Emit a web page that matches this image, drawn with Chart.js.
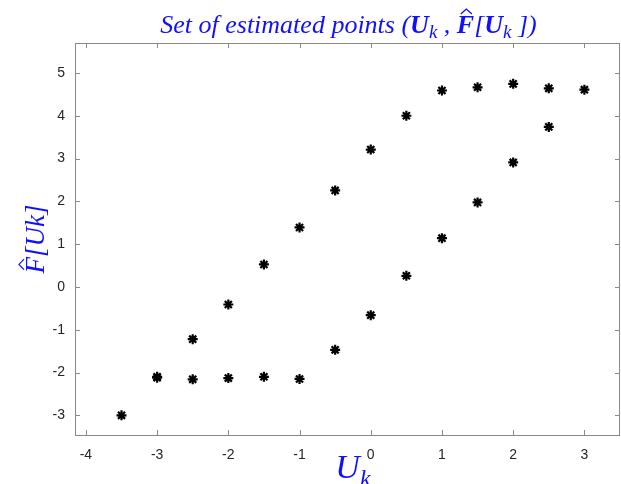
<!DOCTYPE html>
<html>
<head>
<meta charset="utf-8">
<script src="https://cdn.jsdelivr.net/npm/chart.js@4.4.1/dist/chart.umd.min.js"></script>
<style>
  html, body { margin: 0; padding: 0; background: #ffffff; }
  #c { display: block; }
</style>
</head>
<body>
<canvas id="c" width="621" height="484"></canvas>
<script>
// ---- data ----
const xUpper = [-3.5, -3, -2.5, -2, -1.5, -1, -0.5, 0, 0.5, 1, 1.5, 2, 2.5, 3];
const yUpper = [-3.0, -2.10, -1.22, -0.41, 0.525, 1.39, 2.255, 3.21, 4.00, 4.59, 4.665, 4.745, 4.64, 4.61];
const xLower = [-3, -2.5, -2, -1.5, -1, -0.5, 0, 0.5, 1, 1.5, 2, 2.5];
const yLower = [-2.12, -2.16, -2.13, -2.10, -2.15, -1.47, -0.66, 0.26, 1.14, 1.975, 2.91, 3.74];
const xTicks = [-4, -3, -2, -1, 0, 1, 2, 3];
const yTicks = [-3, -2, -1, 0, 1, 2, 3, 4, 5];

const BLUE = '#1010ff';
const AXIS = '#8a8a8a';
const SERIF = '"Liberation Serif", "Times New Roman", serif';

function drawRuns(ctx, runs, cx, baseY) {
  let total = 0;
  runs.forEach(r => { ctx.font = r.font; r.w = ctx.measureText(r.text).width + (r.gap || 0); total += r.w; });
  let x = cx - total / 2;
  runs.forEach(r => {
    ctx.font = r.font;
    ctx.fillText(r.text, x, baseY + (r.dy || 0));
    if (r.hat) {
      const w = r.w;
      ctx.save();
      ctx.lineWidth = r.hatLW || 1.3;
      ctx.strokeStyle = ctx.fillStyle;
      ctx.beginPath();
      const hx = x + w * 0.55 + (r.hatDx || 0);
      const hy = baseY - r.hat;
      ctx.moveTo(hx - w * 0.32, hy + 4);
      ctx.lineTo(hx, hy - 1);
      ctx.lineTo(hx + w * 0.32, hy + 4);
      ctx.stroke();
      ctx.restore();
    }
    x += r.w;
  });
}

const decor = {
  id: 'decor',
  afterDraw(chart) {
    const { ctx, chartArea: a, scales } = chart;
    ctx.save();
    // box
    ctx.strokeStyle = AXIS;
    ctx.lineWidth = 1;
    ctx.strokeRect(a.left + 0.5, a.top + 0.5, a.right - a.left - 1, a.bottom - a.top);
    // inward ticks
    ctx.beginPath();
    xTicks.forEach(v => {
      const px = Math.round(scales.x.getPixelForValue(v)) + 0.5;
      ctx.moveTo(px, a.bottom); ctx.lineTo(px, a.bottom - 5);
      ctx.moveTo(px, a.top); ctx.lineTo(px, a.top + 5);
    });
    yTicks.forEach(v => {
      const py = Math.round(scales.y.getPixelForValue(v)) + 0.5;
      ctx.moveTo(a.left, py); ctx.lineTo(a.left + 5, py);
      ctx.moveTo(a.right, py); ctx.lineTo(a.right - 5, py);
    });
    ctx.stroke();

    ctx.fillStyle = BLUE;
    ctx.textBaseline = 'alphabetic';
    ctx.textAlign = 'left';
    // title
    drawRuns(ctx, [
      { text: 'Set of estimated points (', font: 'italic 26px ' + SERIF },
      { text: 'U', font: 'italic bold 26px ' + SERIF },
      { text: 'k', font: 'italic 19px ' + SERIF, dy: 5 },
      { text: ' , ', font: 'italic 26px ' + SERIF },
      { text: 'F', font: 'italic bold 26px ' + SERIF, hat: 23 },
      { text: '[', font: 'italic 26px ' + SERIF },
      { text: 'U', font: 'italic bold 26px ' + SERIF },
      { text: 'k', font: 'italic 19px ' + SERIF, dy: 5 },
      { text: ' ])', font: 'italic 26px ' + SERIF }
    ], (a.left + a.right) / 2 + 1, 33);

    // x label
    drawRuns(ctx, [
      { text: 'U', font: 'italic 34px ' + SERIF },
      { text: 'k', font: 'italic 24px ' + SERIF, dy: 8 }
    ], scales.x.getPixelForValue(-0.25), 478);

    // y label
    ctx.save();
    ctx.translate(44, (a.top + a.bottom) / 2);
    ctx.rotate(-Math.PI / 2);
    drawRuns(ctx, [
      { text: 'F', font: 'italic 27px ' + SERIF, hat: 24, hatLW: 1.2 },
      { text: '[Uk]', font: 'italic 27px ' + SERIF }
    ], 0, 0);
    ctx.restore();
    ctx.restore();
  }
};

new Chart(document.getElementById('c'), {
  type: 'scatter',
  data: {
    datasets: [
      { label: 'upper', data: xUpper.map((x, i) => ({ x, y: yUpper[i] })) },
      { label: 'lower', data: xLower.map((x, i) => ({ x, y: yLower[i] })) }
    ]
  },
  options: {
    responsive: false,
    animation: false,
    devicePixelRatio: 1,
    layout: { autoPadding: false, padding: { top: 43, right: 1, left: 0, bottom: 0 } },
    elements: {
      point: { pointStyle: 'star', radius: 5, borderWidth: 2.2, borderColor: '#000', backgroundColor: '#000' }
    },
    plugins: { legend: { display: false }, tooltip: { enabled: false } },
    scales: {
      x: {
        type: 'linear', min: -4.153, max: 3.5,
        afterBuildTicks: s => { s.ticks = xTicks.map(v => ({ value: v })); },
        afterFit: s => { s.height = 49; },
        grid: { display: false, drawTicks: false },
        border: { display: false },
        ticks: { padding: 12, color: '#262626', font: { family: '"Liberation Sans", Arial, sans-serif', size: 14 }, maxRotation: 0, autoSkip: false }
      },
      y: {
        type: 'linear', min: -3.46, max: 5.70,
        afterBuildTicks: s => { s.ticks = yTicks.map(v => ({ value: v })); },
        afterFit: s => { s.width = 75; },
        grid: { display: false, drawTicks: false },
        border: { display: false },
        ticks: { padding: 10, color: '#262626', font: { family: '"Liberation Sans", Arial, sans-serif', size: 14 }, autoSkip: false }
      }
    }
  },
  plugins: [decor]
});
</script>
</body>
</html>
